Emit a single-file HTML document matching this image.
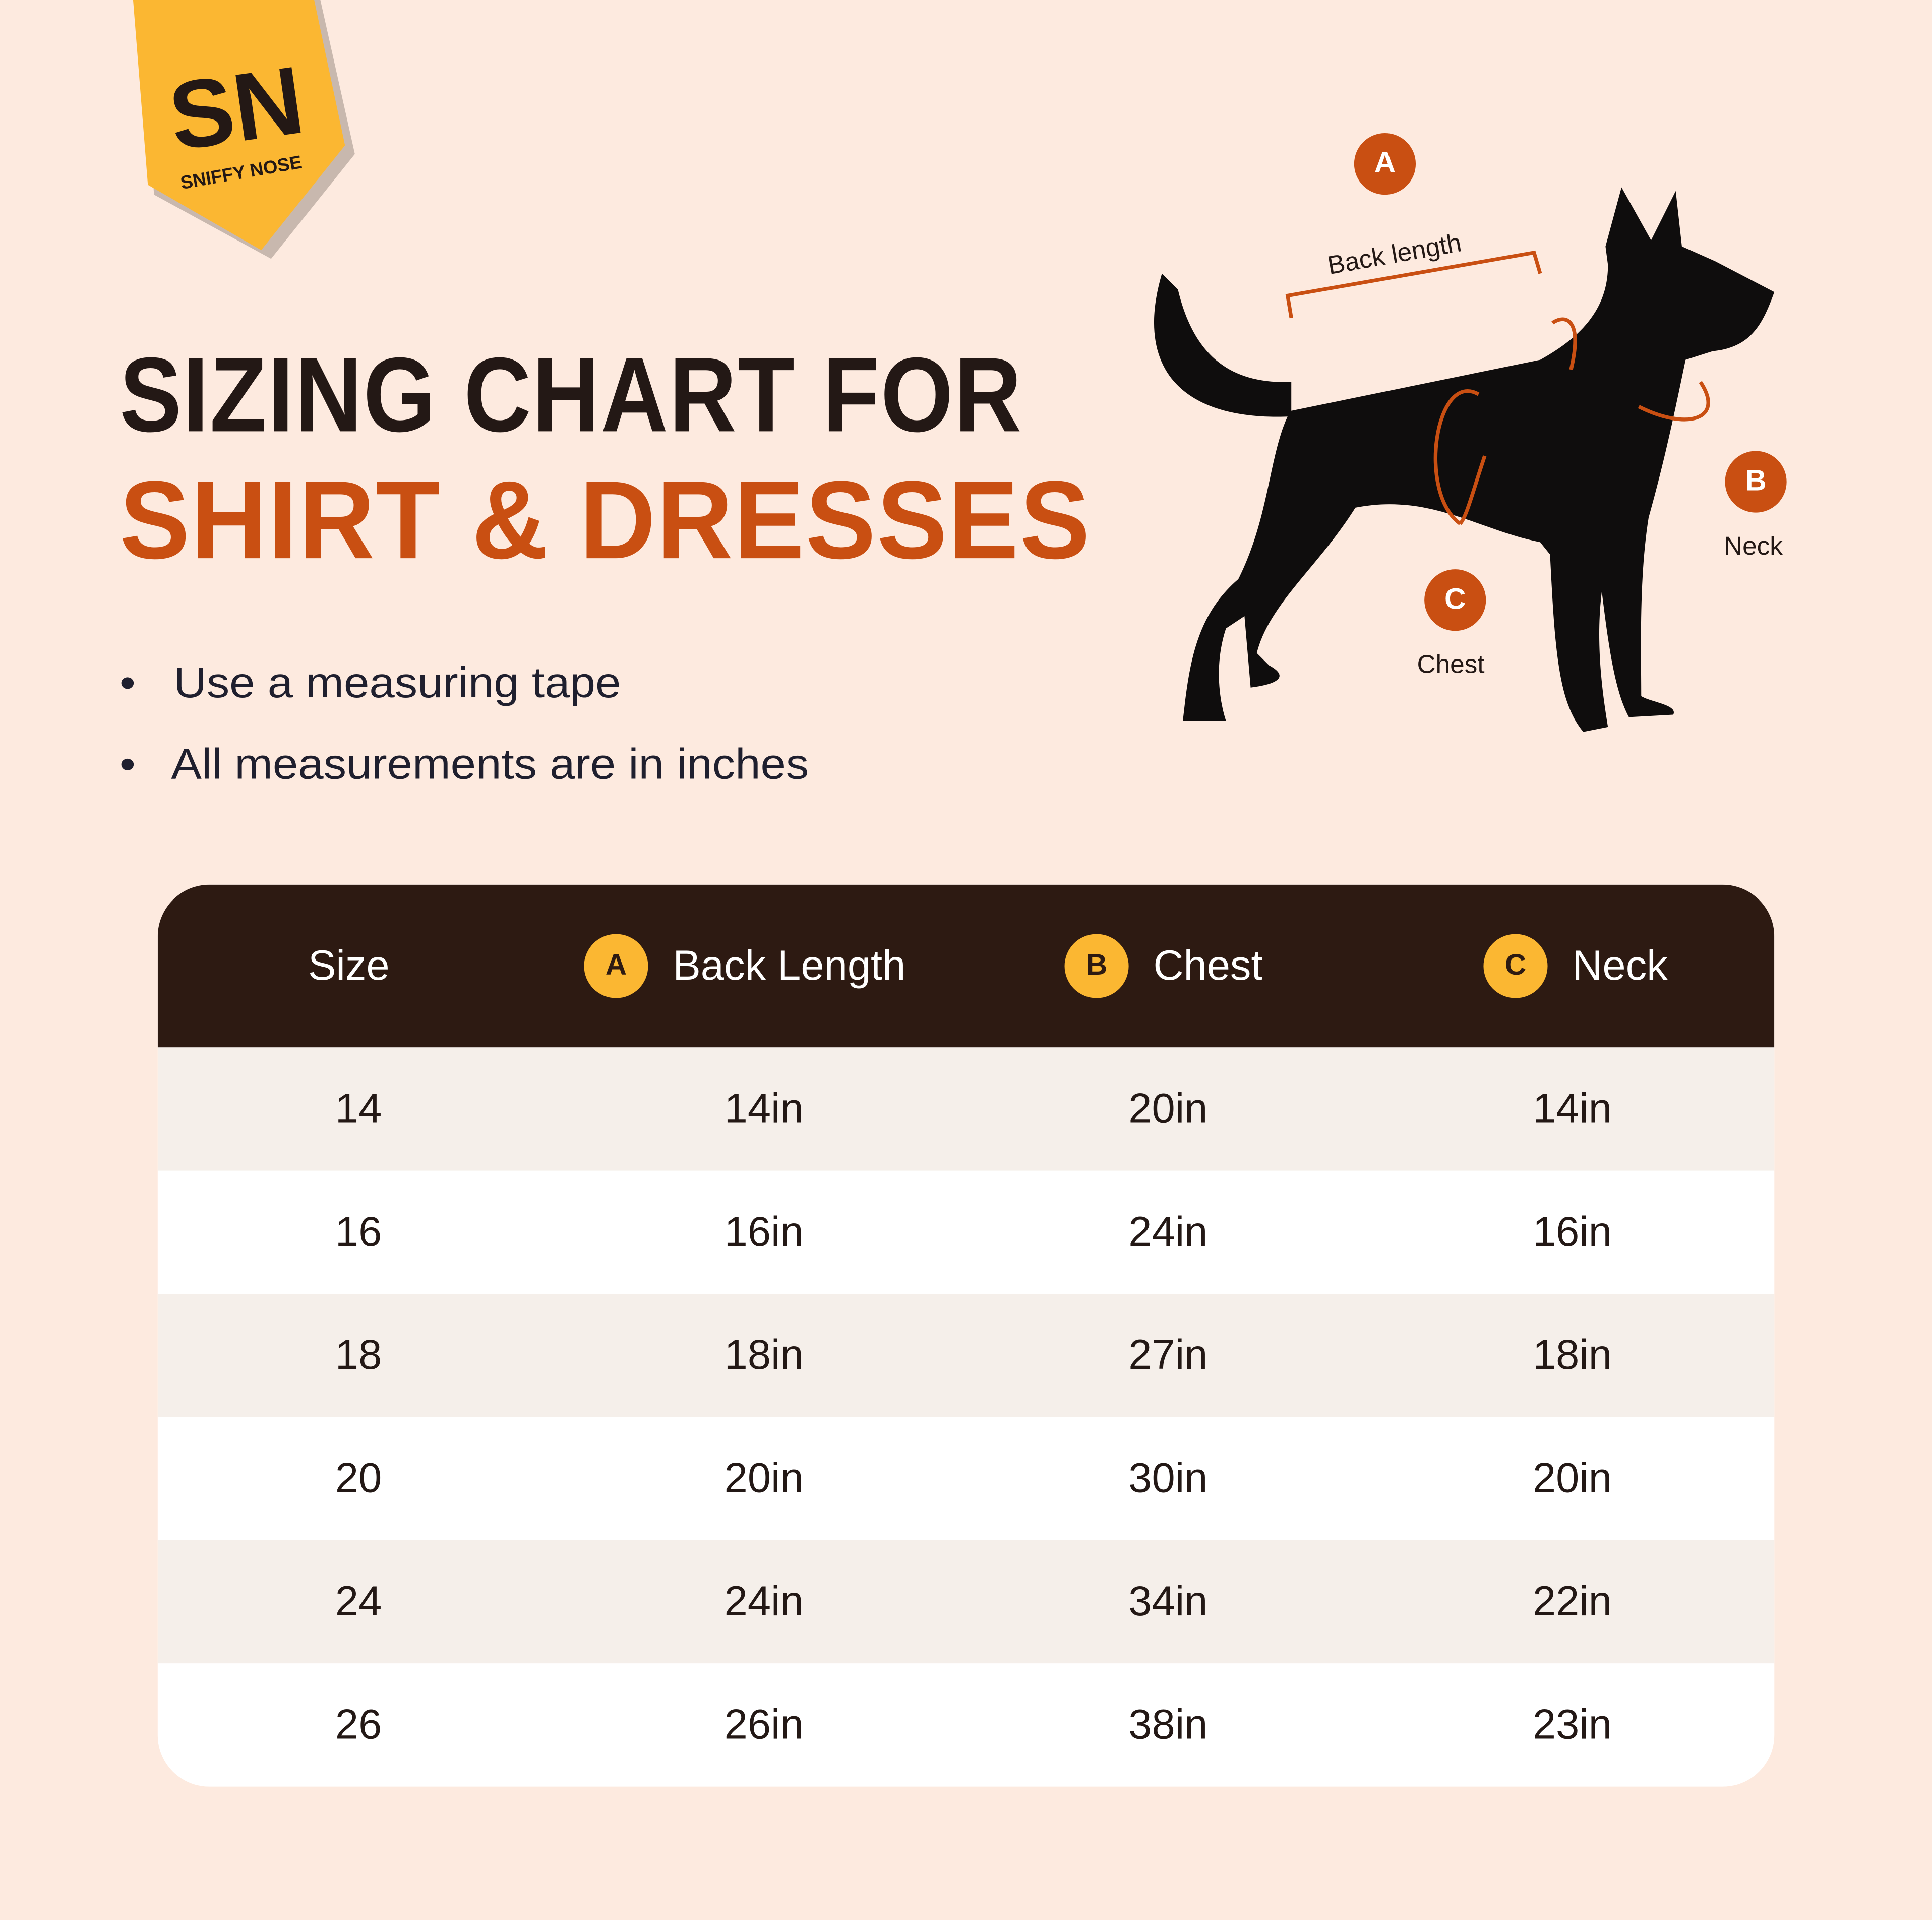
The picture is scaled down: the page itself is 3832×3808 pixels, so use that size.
<!DOCTYPE html>
<html><head><meta charset="utf-8"><style>
html,body{margin:0;padding:0;}
body{width:3832px;height:3808px;overflow:hidden;background:#fdeadf;}
#s{position:absolute;left:0;top:0;width:1568px;height:1558px;transform:scale(2.4439);transform-origin:0 0;font-family:"Liberation Sans",sans-serif;}
.t{position:absolute;white-space:nowrap;}
.h1{font-weight:900;font-size:86px;letter-spacing:1px;color:#231815;transform-origin:0 0;}
.h2{color:#c94f12;}
.b{font-size:35px;color:#1f1f2e;transform-origin:0 0;}
#tbl{position:absolute;left:128px;top:718px;width:1312px;height:732px;border-radius:42px;overflow:hidden;background:#fff;}
.hd{position:absolute;left:0;top:0;width:1312px;height:132px;background:#2d1a12;}
.r{position:absolute;left:0;width:1312px;height:100px;}
.c{position:absolute;width:200px;margin-left:-100px;text-align:center;font-size:34px;color:#231815;line-height:100px;}
.hc{position:absolute;color:#fff;font-size:34px;line-height:132px;top:0;}
.ci{position:absolute;top:40px;width:52px;height:52px;border-radius:50%;background:#fbb732;color:#2d1a12;font-size:24px;text-align:center;line-height:52px;font-weight:bold;}
.oc{position:absolute;width:50px;height:50px;border-radius:50%;background:#c94f12;color:#fff;font-weight:bold;font-size:24px;text-align:center;line-height:50px;}
</style></head><body><div id="s">
<svg width="1568" height="1558" style="position:absolute;left:0;top:0">
<polygon points="113,0 260,0 288,125 220,210 125,158" fill="#c8b8ae"/>
<polygon points="108,0 255,0 280,118 212,203 120,150" fill="#fbb732"/>
<text x="138" y="115" font-family="Liberation Sans" font-weight="900" font-size="78" fill="#231815" transform="rotate(-8 190 90)">SN</text>
<text x="145" y="145" font-family="Liberation Sans" font-weight="bold" font-size="15" fill="#231815" transform="rotate(-10 195 135)">SNIFFY NOSE</text>
<path d="M943,222 C920,300 960,342 1048,338 L1048,310 C995,312 968,285 956,235 Z" fill="#0f0d0d"/>
<path d="M1040,335 L1250,292 C1290,270 1305,245 1305,215 L1303,200 L1316,152 L1340,195 L1360,155 L1365,200 L1392,212 L1440,237 C1430,265 1420,282 1390,285 L1368,292 C1360,330 1352,370 1338,420 C1330,470 1332,530 1332,565 C1340,570 1362,572 1358,580 L1322,582 C1310,560 1305,520 1300,480 C1295,520 1300,560 1305,590 L1285,594 C1265,570 1262,530 1258,450 L1250,440 C1200,430 1160,400 1100,412 C1070,460 1030,490 1020,530 L1030,540 C1045,548 1040,555 1015,558 L1010,500 L995,510 C985,540 990,570 995,585 L960,585 C965,540 970,500 1005,470 C1030,420 1030,370 1045,338 Z" fill="#0f0d0d"/>
<path d="M1048,258 L1045,240 L1245,205 L1250,222" stroke="#c94f12" stroke-width="3" fill="none"/>
<path d="M1185,425 C1150,400 1165,300 1200,320 M1205,370 C1195,400 1190,420 1185,425" stroke="#c94f12" stroke-width="3" fill="none"/>
<path d="M1330,330 C1370,350 1400,340 1380,310 M1260,262 C1270,255 1285,258 1275,300" stroke="#c94f12" stroke-width="3" fill="none"/>
<text x="1075" y="212" font-family="Liberation Sans" font-size="21" fill="#231815" transform="rotate(-10 1138 195)">Back length</text>
</svg>
<div class="oc" style="left:1099px;top:108px">A</div>
<div class="oc" style="left:1400px;top:366px">B</div>
<div class="oc" style="left:1156px;top:462px">C</div>
<div class="t" style="left:1399px;top:432px;font-size:21px;color:#231815">Neck</div>
<div class="t" style="left:1150px;top:528px;font-size:21px;color:#231815">Chest</div>
<div class="t h1" style="left:97px;top:272px;transform:scaleX(0.88)">SIZING CHART FOR</div>
<div class="t h1 h2" style="left:97px;top:372px;font-size:90px;transform:scaleX(0.95)">SHIRT &amp; DRESSES</div>
<div class="t b" style="left:97px;top:535px;transform:scaleX(1.06)">•&nbsp;&nbsp; Use a measuring tape</div>
<div class="t b" style="left:97px;top:601px;transform:scaleX(1.06)">•&nbsp;&nbsp; All measurements are in inches</div>
<div id="tbl">
<div class="hd">
<div class="hc" style="left:122px">Size</div>
<div class="ci" style="left:346px">A</div><div class="hc" style="left:418px">Back Length</div>
<div class="ci" style="left:736px">B</div><div class="hc" style="left:808px">Chest</div>
<div class="ci" style="left:1076px">C</div><div class="hc" style="left:1148px">Neck</div>
</div>
<div class="r" style="top:132px;background:#f5efea"><div class="c" style="left:163px">14</div><div class="c" style="left:492px">14in</div><div class="c" style="left:820px">20in</div><div class="c" style="left:1148px">14in</div></div>
<div class="r" style="top:232px;background:#fff;border-bottom:2px solid #ece6e2"><div class="c" style="left:163px">16</div><div class="c" style="left:492px">16in</div><div class="c" style="left:820px">24in</div><div class="c" style="left:1148px">16in</div></div>
<div class="r" style="top:332px;background:#f5efea"><div class="c" style="left:163px">18</div><div class="c" style="left:492px">18in</div><div class="c" style="left:820px">27in</div><div class="c" style="left:1148px">18in</div></div>
<div class="r" style="top:432px;background:#fff;border-bottom:2px solid #ece6e2"><div class="c" style="left:163px">20</div><div class="c" style="left:492px">20in</div><div class="c" style="left:820px">30in</div><div class="c" style="left:1148px">20in</div></div>
<div class="r" style="top:532px;background:#f5efea"><div class="c" style="left:163px">24</div><div class="c" style="left:492px">24in</div><div class="c" style="left:820px">34in</div><div class="c" style="left:1148px">22in</div></div>
<div class="r" style="top:632px;background:#fff"><div class="c" style="left:163px">26</div><div class="c" style="left:492px">26in</div><div class="c" style="left:820px">38in</div><div class="c" style="left:1148px">23in</div></div>
</div>
</div></body></html>
